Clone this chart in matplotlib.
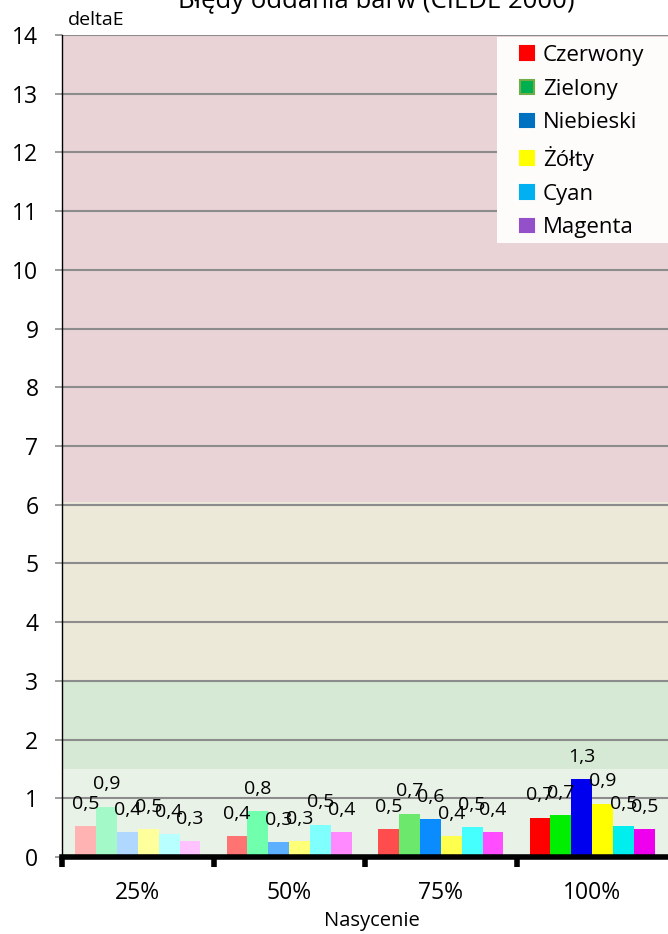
import matplotlib
matplotlib.use("Agg")
import matplotlib.pyplot as plt
from matplotlib.patches import Patch, Rectangle
from matplotlib.legend_handler import HandlerPatch
import numpy as np

plt.rcParams['font.family'] = ['Open Sans', 'DejaVu Sans']

# data
categories = ['25%', '50%', '75%', '100%']
series = ['Czerwony', 'Zielony', 'Niebieski', 'Żółty', 'Cyan', 'Magenta']
values = [
    [0.53, 0.36, 0.47, 0.67],   # Czerwony
    [0.86, 0.78, 0.74, 0.72],   # Zielony
    [0.43, 0.26, 0.64, 1.32],   # Niebieski
    [0.47, 0.27, 0.36, 0.91],   # Żółty
    [0.39, 0.55, 0.51, 0.53],   # Cyan
    [0.27, 0.42, 0.42, 0.48],   # Magenta
]
labels = [
    ['0,5', '0,4', '0,5', '0,7'],
    ['0,9', '0,8', '0,7', '0,7'],
    ['0,4', '0,3', '0,6', '1,3'],
    ['0,5', '0,3', '0,4', '0,9'],
    ['0,4', '0,5', '0,5', '0,5'],
    ['0,3', '0,4', '0,4', '0,5'],
]
# bar colours: one row per series, lighter for lower saturation
bar_colors = [
    ['#ffb3b3', '#ff7373', '#ff4d4d', '#ff0000'],
    ['#a3fac8', '#70ffac', '#6ce86c', '#00ee00'],
    ['#b0d8ff', '#5cb0ff', '#0a8cff', '#0000ee'],
    ['#ffff9c', '#ffff78', '#ffff4d', '#ffff00'],
    ['#b8ffff', '#80ffff', '#45ffff', '#00eeee'],
    ['#ffc2ff', '#ff8aff', '#ff4dff', '#ee00ee'],
]
legend_colors = ['#ff0000', '#00b050', '#0070c0', '#ffff00', '#00b0f0', '#9450c8']
legend_edges = ['#ff0000', '#70ad47', '#0070c0', '#ffff00', '#00b0f0', '#9450c8']


def square(legend, orig_handle, xdescent, ydescent, width, height, fontsize):
    s = 0.62 * fontsize
    return Rectangle((-xdescent, -ydescent + (height - s) / 2), s, s)


W, H = 668, 934
fig = plt.figure(figsize=(W / 100, H / 100), dpi=100)
ax = fig.add_axes([62 / W, 1 - 857 / H, 606 / W, 822 / H])

# quality bands
ax.axhspan(0, 1.5, color='#e8f2e6', zorder=0, lw=0)
ax.axhspan(1.5, 3, color='#d5e9d4', zorder=0, lw=0)
ax.axhspan(3, 6.05, color='#ece9d9', zorder=0, lw=0)
ax.axhspan(6.05, 14, color='#e9d3d6', zorder=0, lw=0)

for yv in range(1, 15):
    ax.axhline(yv, color='#8c8c8c', lw=1.5, zorder=1)

x = np.arange(len(categories))
w = 0.138
for i in range(len(series)):
    xs = x + (i - 2.5) * w
    ax.bar(xs, values[i], width=w, color=bar_colors[i], zorder=2)
    for xi, v, lab in zip(xs, values[i], labels[i]):
        ax.annotate(lab, (xi, v), xytext=(0, 16), textcoords='offset points',
                    ha='center', va='center', fontsize=14, zorder=3)

ax.set_xlim(-0.5, 3.5)
ax.set_ylim(0, 14)
ax.set_yticks(range(0, 15))
ax.tick_params(axis='y', labelsize=16.5, length=5, width=1.2, color='#8c8c8c', pad=12)

ax.set_xticks([-0.5, 0.5, 1.5, 2.5])
ax.set_xticklabels([])
ax.set_xticks(x, minor=True)
ax.set_xticklabels(categories, minor=True)
ax.tick_params(axis='x', which='major', length=7, width=4, color='black', direction='out')
ax.tick_params(axis='x', which='minor', length=0, labelsize=16.5, pad=17)

for s in ['top', 'right']:
    ax.spines[s].set_visible(False)
ax.spines['left'].set_linewidth(1)
ax.spines['bottom'].set_linewidth(4)

fig.text(68 / W, 1 - 20 / H, 'deltaE', fontsize=14, ha='left', va='center')
fig.text(372 / W, 1 - 921 / H, 'Nasycenie', fontsize=14.5, ha='center', va='center')
fig.text(376 / W, 1 - 8.5 / H, 'Błędy oddania barw (CIEDE 2000)', fontsize=18.5,
         ha='center', va='baseline')

# legend box
ax.add_patch(Rectangle((497 / W, 1 - 243 / H), 171 / W, 206 / H,
                       transform=fig.transFigure, facecolor='#fdfcfb',
                       edgecolor='none', zorder=4, clip_on=False))
handles = [Patch(facecolor=c, edgecolor=e, lw=1.5) for c, e in zip(legend_colors, legend_edges)]
leg = ax.legend(handles, series, loc='upper left', bbox_to_anchor=(520 / W, 1 - 45 / H),
                bbox_transform=fig.transFigure, borderaxespad=0, borderpad=0,
                fontsize=16, frameon=False, handlelength=0.62, handleheight=0.7,
                handletextpad=0.4, labelspacing=0.57,
                handler_map={Patch: HandlerPatch(patch_func=square)})
leg.set_zorder(5)

fig.savefig('out.png', dpi=100)
